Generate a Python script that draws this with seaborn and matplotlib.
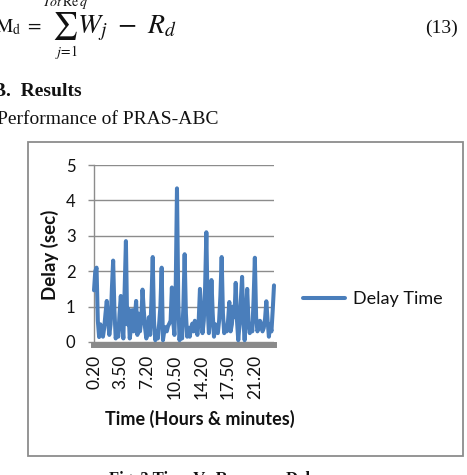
import numpy as np
import pandas as pd
import matplotlib
matplotlib.use("Agg")
import matplotlib.pyplot as plt
import seaborn as sns
from matplotlib.patches import Rectangle

# ---- data ----
delay_time = [
    1.46, 2.0, 2.1, 0.6, 0.14, 0.5, 0.3, 0.15, 0.4, 0.8,
    1.16, 0.6, 0.2, 0.5, 1.5, 2.3, 0.9, 0.1, 0.3, 0.15,
    0.8, 1.3, 0.5, 0.1, 1.5, 2.85, 0.5, 0.94, 0.1, 0.4,
    0.9, 0.3, 0.7, 1.16, 0.2, 0.8, 0.3, 0.6, 1.48, 0.9,
    0.4, 0.1, 0.3, 0.7, 0.2, 1.2, 2.4, 0.6, 0.05, 0.3,
    0.1, 0.5, 1.0, 2.1, 0.05, 0.3, 0.42, 0.3, 0.45, 0.52,
    0.6, 1.54, 0.6, 0.2, 1.5, 4.34, 1.2, 0.05, 0.5, 0.1,
    1.0, 2.48, 0.8, 0.15, 0.4, 0.15, 0.4, 0.52, 0.3, 0.6,
    0.4, 0.2, 0.6, 1.5, 0.7, 0.25, 0.6, 1.5, 3.1, 1.0,
    0.25, 0.7, 1.75, 0.8, 0.15, 0.5, 0.3, 0.25, 0.6, 1.3,
    2.4, 0.8, 0.25, 0.42, 0.3, 0.6, 1.13, 0.3, 0.5, 1.0,
    0.7, 1.67, 0.6, 0.05, 0.5, 1.2, 1.84, 0.6, 0.05, 0.7,
    1.5, 0.6, 0.25, 0.5, 0.3, 1.2, 2.38, 0.7, 0.3, 0.4,
    0.6, 0.5, 0.3, 0.4, 0.66, 1.15, 0.6, 0.15, 0.5, 0.3,
    0.9, 1.6,
]
x_tick_labels = ["0.20", "3.50", "7.20", "10.50", "14.20", "17.50", "21.20"]
x_tick_step = 21
y_ticks = [0, 1, 2, 3, 4, 5]
series_name = "Delay Time"

df = pd.DataFrame({"obs": np.arange(len(delay_time)), series_name: delay_time})

# ---- style ----
sns.set_theme(style="white")
plt.rcParams['font.family'] = ['Lato', 'DejaVu Sans']
plt.rcParams['mathtext.fontset'] = 'stix'

W, H = 467, 475
fig = plt.figure(figsize=(W / 100, H / 100), dpi=100)
fig.patch.set_facecolor('white')


def fx(px):
    return px / W


def fy(py):
    return 1 - py / H


serif = ['Liberation Serif', 'DejaVu Serif']
txt = '#111111'

# ---- page text around the chart ----
fig.text(fx(-5), fy(32), r'$\mathrm{M}_{\mathrm{d}}\ =$', fontsize=14, va='baseline', color=txt)
fig.text(fx(65), fy(6), r'$\mathit{Tot}\,\mathrm{Re}\,q$', fontsize=10, ha='center', va='baseline', color=txt)
fig.text(fx(65), fy(26), r'$\sum$', fontsize=20, ha='center', va='center', color=txt)
fig.text(fx(67), fy(52), r'$j\!=\!1$', fontsize=10, ha='center', va='center', color=txt)
fig.text(fx(77), fy(33), r'$W_{j}\ -\ R_{d}$', fontsize=20, va='baseline', color=txt)
fig.text(fx(458), fy(33), '(13)', family=serif, fontsize=14, ha='right', va='baseline', color=txt)
fig.text(fx(-7), fy(96), 'B.  Results', family=serif, fontsize=14, fontweight='bold',
         va='baseline', color=txt)
fig.text(fx(-3), fy(124), 'Performance of PRAS-ABC', family=serif, fontsize=14,
         va='baseline', color=txt)
fig.text(fx(218), fy(471), 'Fig. 3 Time Vs Response Delay', family=serif, fontsize=12,
         fontweight='bold', ha='center', va='top', color=txt)

# chart frame
fig.patches.append(Rectangle((fx(28), fy(456)), fx(463) - fx(28), (456 - 142) / H,
                             transform=fig.transFigure, fill=False,
                             edgecolor='#8c8c8c', lw=1.3))

# ---- chart ----
ax = fig.add_axes([fx(94), fy(342), (274 - 94) / W, (342 - 165) / H])
ax.set_facecolor('white')
grid_c = '#8c8c8c'

sns.lineplot(data=df, x="obs", y=series_name, ax=ax, color='#4a7ebb', lw=2.9,
             label=series_name, clip_on=False, zorder=3)

ax.set_xlim(0, len(delay_time) - 1)
ax.set_ylim(0, 5)
ax.set_yticks(y_ticks)
ax.set_yticklabels([str(v) for v in y_ticks])
ax.set_xticks(list(range(0, len(delay_time), x_tick_step)))
ax.set_xticklabels(x_tick_labels)
ax.set_xlabel('')
ax.set_ylabel('')

ax.yaxis.grid(True, color=grid_c, lw=1)
ax.xaxis.grid(False)
for s in ['top', 'right']:
    ax.spines[s].set_visible(False)
ax.spines['left'].set_color(grid_c)
ax.spines['left'].set_linewidth(1)
ax.spines['bottom'].set_color('#8a8a8a')
ax.spines['bottom'].set_linewidth(4.3)
ax.spines['bottom'].set_position(('outward', 2.2))

ax.tick_params(axis='y', which='major', length=4.3, width=1, color=grid_c,
               pad=9, labelsize=12, labelcolor=txt, left=True)
ax.tick_params(axis='x', which='major', length=0, pad=7, labelsize=12.5,
               labelcolor=txt, labelrotation=90, bottom=True)
for lab in ax.get_xticklabels():
    lab.set_rotation(90)
    lab.set_va('top')
    lab.set_ha('center')

fig.text(fx(50), fy(255), 'Delay (sec)', rotation=90, fontsize=13.5, fontweight='bold',
         ha='center', va='center', color=txt)
fig.text(fx(200), fy(419), 'Time (Hours & minutes)', fontsize=13, fontweight='bold',
         ha='center', va='center', color=txt)

ax.legend(loc='center left', bbox_to_anchor=(fx(303), fy(299)),
          bbox_transform=fig.transFigure, frameon=False, fontsize=13,
          handlelength=2.3, handletextpad=0.45, borderpad=0, borderaxespad=0)
for t in ax.get_legend().get_texts():
    t.set_color(txt)

fig.savefig('out.png', dpi=100, facecolor='white')
